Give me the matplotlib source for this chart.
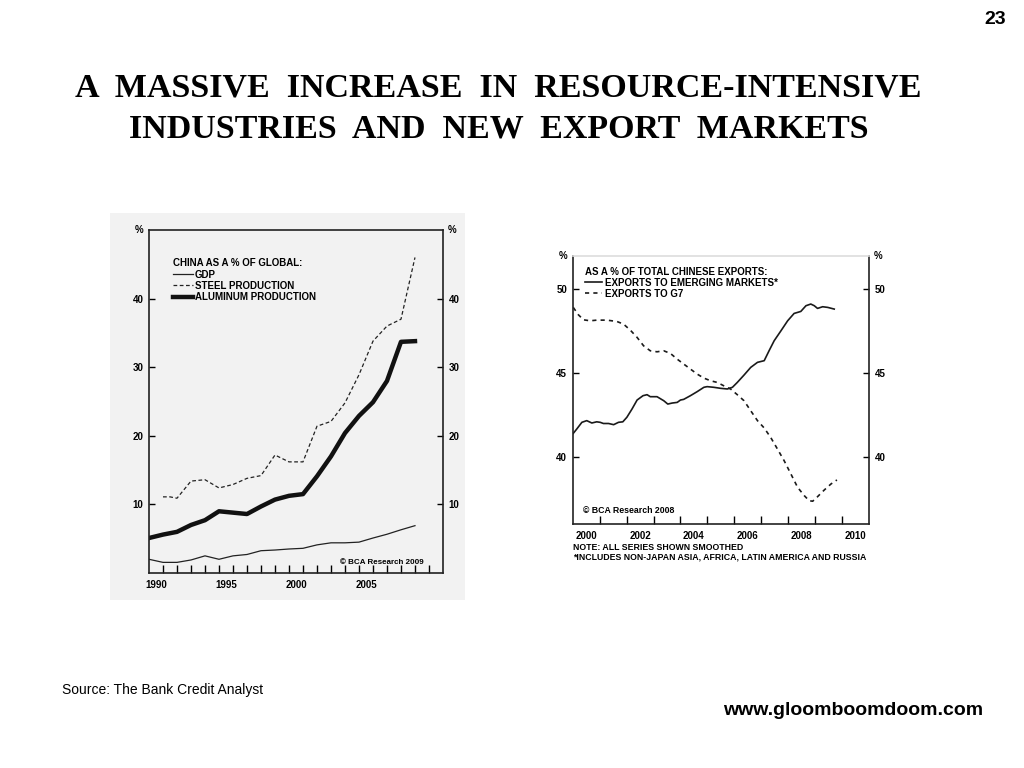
import matplotlib
matplotlib.use("Agg")
import matplotlib.pyplot as plt
from matplotlib.patches import Rectangle

plt.rcParams['font.family'] = ['Liberation Sans', 'DejaVu Sans']

# ---------------------------------------------------------------- DATA

# left chart: China as a % of global (annual)
years_left = [1990, 1991, 1992, 1993, 1994, 1995, 1996, 1997, 1998, 1999,
              2000, 2001, 2002, 2003, 2004, 2005, 2006, 2007, 2008, 2009]
gdp = [2.0, 1.55, 1.55, 1.9, 2.5, 2.0, 2.5, 2.7, 3.25, 3.35,
       3.5, 3.6, 4.1, 4.4, 4.4, 4.5, 5.1, 5.65, 6.3, 6.9]
aluminum = [5.1, 5.6, 6.0, 7.0, 7.7, 9.0, 8.8, 8.6, 9.7, 10.7,
            11.25, 11.5, 14.1, 17.0, 20.4, 22.9, 24.9, 28.0, 33.7, 33.8]
years_steel = [1991, 1991.5, 1992, 1993, 1994, 1995, 1996, 1997, 1998, 1999,
               2000, 2001, 2002, 2003, 2004, 2005, 2006, 2007, 2008, 2009]
steel = [11.1, 11.1, 10.9, 13.4, 13.6, 12.4, 12.9, 13.8, 14.2, 17.2,
         16.2, 16.2, 21.4, 22.1, 24.8, 28.9, 33.8, 36.0, 37.0, 46.0]
left_year_labels = ['1990', '1995', '2000', '2005']

# right chart: share of total Chinese exports (smoothed)
em_x = [2000.02, 2000.15, 2000.34, 2000.52, 2000.71, 2000.89, 2001.02, 2001.14,
        2001.33, 2001.52, 2001.70, 2001.86, 2002.01, 2002.20, 2002.39, 2002.61,
        2002.76, 2002.88, 2003.13, 2003.38, 2003.53, 2003.69, 2003.88, 2004.00,
        2004.12, 2004.37, 2004.62, 2004.87, 2004.99, 2005.24, 2005.49, 2005.74,
        2005.93, 2006.11, 2006.36, 2006.61, 2006.86, 2007.11, 2007.29, 2007.48,
        2007.73, 2007.98, 2008.22, 2008.47, 2008.66, 2008.84, 2008.97, 2009.09,
        2009.28, 2009.47, 2009.71]
em_y = [41.41, 41.67, 42.07, 42.17, 42.03, 42.10, 42.07, 42.00,
        42.00, 41.93, 42.07, 42.10, 42.37, 42.86, 43.40, 43.66,
        43.72, 43.60, 43.60, 43.36, 43.16, 43.22, 43.26, 43.40,
        43.44, 43.66, 43.90, 44.16, 44.20, 44.16, 44.10, 44.06,
        44.16, 44.45, 44.89, 45.35, 45.65, 45.75, 46.34, 46.94,
        47.53, 48.13, 48.57, 48.69, 49.03, 49.13, 49.03, 48.87,
        48.97, 48.93, 48.83]
g7_x = [2000.02, 2000.21, 2000.40, 2000.65, 2000.89, 2001.27, 2001.64, 2001.89,
        2002.14, 2002.39, 2002.63, 2002.88, 2003.13, 2003.38, 2003.63, 2003.88,
        2004.12, 2004.37, 2004.62, 2004.87, 2005.12, 2005.37, 2005.61, 2005.86,
        2006.11, 2006.36, 2006.61, 2006.86, 2007.11, 2007.35, 2007.60, 2007.85,
        2008.10, 2008.35, 2008.60, 2008.78, 2008.91, 2009.09, 2009.34, 2009.59,
        2009.81]
g7_y = [48.93, 48.49, 48.19, 48.13, 48.17, 48.17, 48.09, 47.93,
        47.57, 47.14, 46.64, 46.34, 46.28, 46.34, 46.18, 45.84,
        45.55, 45.25, 44.95, 44.71, 44.55, 44.45, 44.25, 44.06,
        43.72, 43.36, 42.76, 42.17, 41.73, 41.17, 40.48, 39.78,
        38.99, 38.19, 37.69, 37.39, 37.36, 37.63, 38.03, 38.39,
        38.63]
right_year_labels = ['2000', '2002', '2004', '2006', '2008', '2010']

# ---------------------------------------------------------------- FIGURE

fig = plt.figure(figsize=(10.24, 7.68), dpi=100)
fig.patch.set_facecolor('white')

# light grey scanned background behind the left chart
fig.patches.append(Rectangle((0.1074, 0.2188), 0.3467, 0.504, transform=fig.transFigure,
                             facecolor='#f2f2f2', edgecolor='none', zorder=-5))

fig.text(0.487, 0.885, 'A  MASSIVE  INCREASE  IN  RESOURCE-INTENSIVE',
         ha='center', va='center', fontsize=24.5, fontweight='bold', family='Liberation Serif')
fig.text(0.487, 0.832, 'INDUSTRIES  AND  NEW  EXPORT  MARKETS',
         ha='center', va='center', fontsize=24.5, fontweight='bold', family='Liberation Serif')
fig.text(0.972, 0.974, '23', ha='center', va='center', fontsize=14, fontweight='bold')
fig.text(0.0605, 0.1015, 'Source: The Bank Credit Analyst', ha='left', va='center', fontsize=10)
fig.text(0.96, 0.0755, 'www.gloomboomdoom.com', ha='right', va='center', fontsize=14, fontweight='bold')

# ---------------------------------------------------------------- LEFT CHART

ax1 = fig.add_axes([0.1455, 0.2539, 0.2871, 0.4466])
ax1.set_facecolor('none')
ax1.plot(years_left, gdp, color='#222222', lw=0.9, label='GDP')
ax1.plot(years_steel, steel, color='#222222', lw=0.9, ls=(0, (3, 2)), label='STEEL PRODUCTION')
ax1.plot(years_left, aluminum, color='#111111', lw=3.2, label='ALUMINUM PRODUCTION')
ax1.set_xlim(1990, 2011)
ax1.set_ylim(0, 50)

ax1.set_xticks(range(1991, 2011))
ax1.set_xticklabels([])
ax1.set_xticks([int(y) + 0.5 for y in left_year_labels], minor=True)
ax1.set_xticklabels(left_year_labels, minor=True)
ax1.tick_params(axis='x', which='major', direction='in', length=6, width=1)
ax1.tick_params(axis='x', which='minor', length=0, pad=5, labelsize=7)
ax1.set_yticks([10, 20, 30, 40])
ax1.tick_params(axis='y', direction='in', length=4, width=1, labelsize=7,
                left=True, right=True, labelleft=True, labelright=True, pad=4)
for lab in ax1.get_xticklabels(minor=True) + ax1.get_yticklabels():
    lab.set_fontweight('bold')
for s in ax1.spines.values():
    s.set_linewidth(1.2)
    s.set_color('#222222')

ax1.text(-0.035, 1.0, '%', transform=ax1.transAxes, ha='center', va='center', fontsize=7, fontweight='bold')
ax1.text(1.03, 1.0, '%', transform=ax1.transAxes, ha='center', va='center', fontsize=7, fontweight='bold')
ax1.text(0.65, 0.032, '\u00a9 BCA Research 2009', transform=ax1.transAxes, ha='left', va='center',
         fontsize=5.8, fontweight='bold')

leg1 = ax1.legend(loc='upper left', bbox_to_anchor=(0.082, 0.917), frameon=False,
                  title='CHINA AS A % OF GLOBAL:', alignment='left',
                  prop={'size': 7, 'weight': 'bold'}, handlelength=2.0, handletextpad=0.25,
                  labelspacing=0.12, borderpad=0, borderaxespad=0)
leg1.get_title().set_fontsize(7)
leg1.get_title().set_fontweight('bold')

# ---------------------------------------------------------------- RIGHT CHART

ax2 = fig.add_axes([0.5593, 0.3177, 0.2893, 0.349])
ax2.plot(em_x, em_y, color='#1a1a1a', lw=1.2, label='EXPORTS TO EMERGING MARKETS*')
ax2.plot(g7_x, g7_y, color='#1a1a1a', lw=1.2, ls=(0, (2.5, 2.5)), label='EXPORTS TO G7')
ax2.set_xlim(2000, 2011)
ax2.set_ylim(36, 52)

ax2.set_xticks(range(2001, 2011))
ax2.set_xticklabels([])
ax2.set_xticks([int(y) + 0.5 for y in right_year_labels], minor=True)
ax2.set_xticklabels(right_year_labels, minor=True)
ax2.tick_params(axis='x', which='major', direction='in', length=6, width=1)
ax2.tick_params(axis='x', which='minor', length=0, pad=5, labelsize=7)
ax2.set_yticks([40, 45, 50])
ax2.tick_params(axis='y', direction='in', length=4, width=1, labelsize=7,
                left=True, right=True, labelleft=True, labelright=True, pad=4)
for lab in ax2.get_xticklabels(minor=True) + ax2.get_yticklabels():
    lab.set_fontweight('bold')
for s in ax2.spines.values():
    s.set_linewidth(1.2)
    s.set_color('#222222')
ax2.spines['top'].set_color('#dddddd')

ax2.text(-0.033, 1.0, '%', transform=ax2.transAxes, ha='center', va='center', fontsize=7, fontweight='bold')
ax2.text(1.03, 1.0, '%', transform=ax2.transAxes, ha='center', va='center', fontsize=7, fontweight='bold')
ax2.text(0.035, 0.052, '\u00a9 BCA Research 2008', transform=ax2.transAxes, ha='left', va='center',
         fontsize=6.3, fontweight='bold')
ax2.text(0.0, -0.07, 'NOTE: ALL SERIES SHOWN SMOOTHED\n*INCLUDES NON-JAPAN ASIA, AFRICA, LATIN AMERICA AND RUSSIA',
         transform=ax2.transAxes, ha='left', va='top', fontsize=6.3, fontweight='bold', linespacing=1.15)

leg2 = ax2.legend(loc='upper left', bbox_to_anchor=(0.04, 0.96), frameon=False,
                  title='AS A % OF TOTAL CHINESE EXPORTS:', alignment='left',
                  prop={'size': 7, 'weight': 'bold'}, handlelength=1.8, handletextpad=0.3,
                  labelspacing=0.1, borderpad=0, borderaxespad=0)
leg2.get_title().set_fontsize(7)
leg2.get_title().set_fontweight('bold')

fig.savefig('out.png', dpi=100)
